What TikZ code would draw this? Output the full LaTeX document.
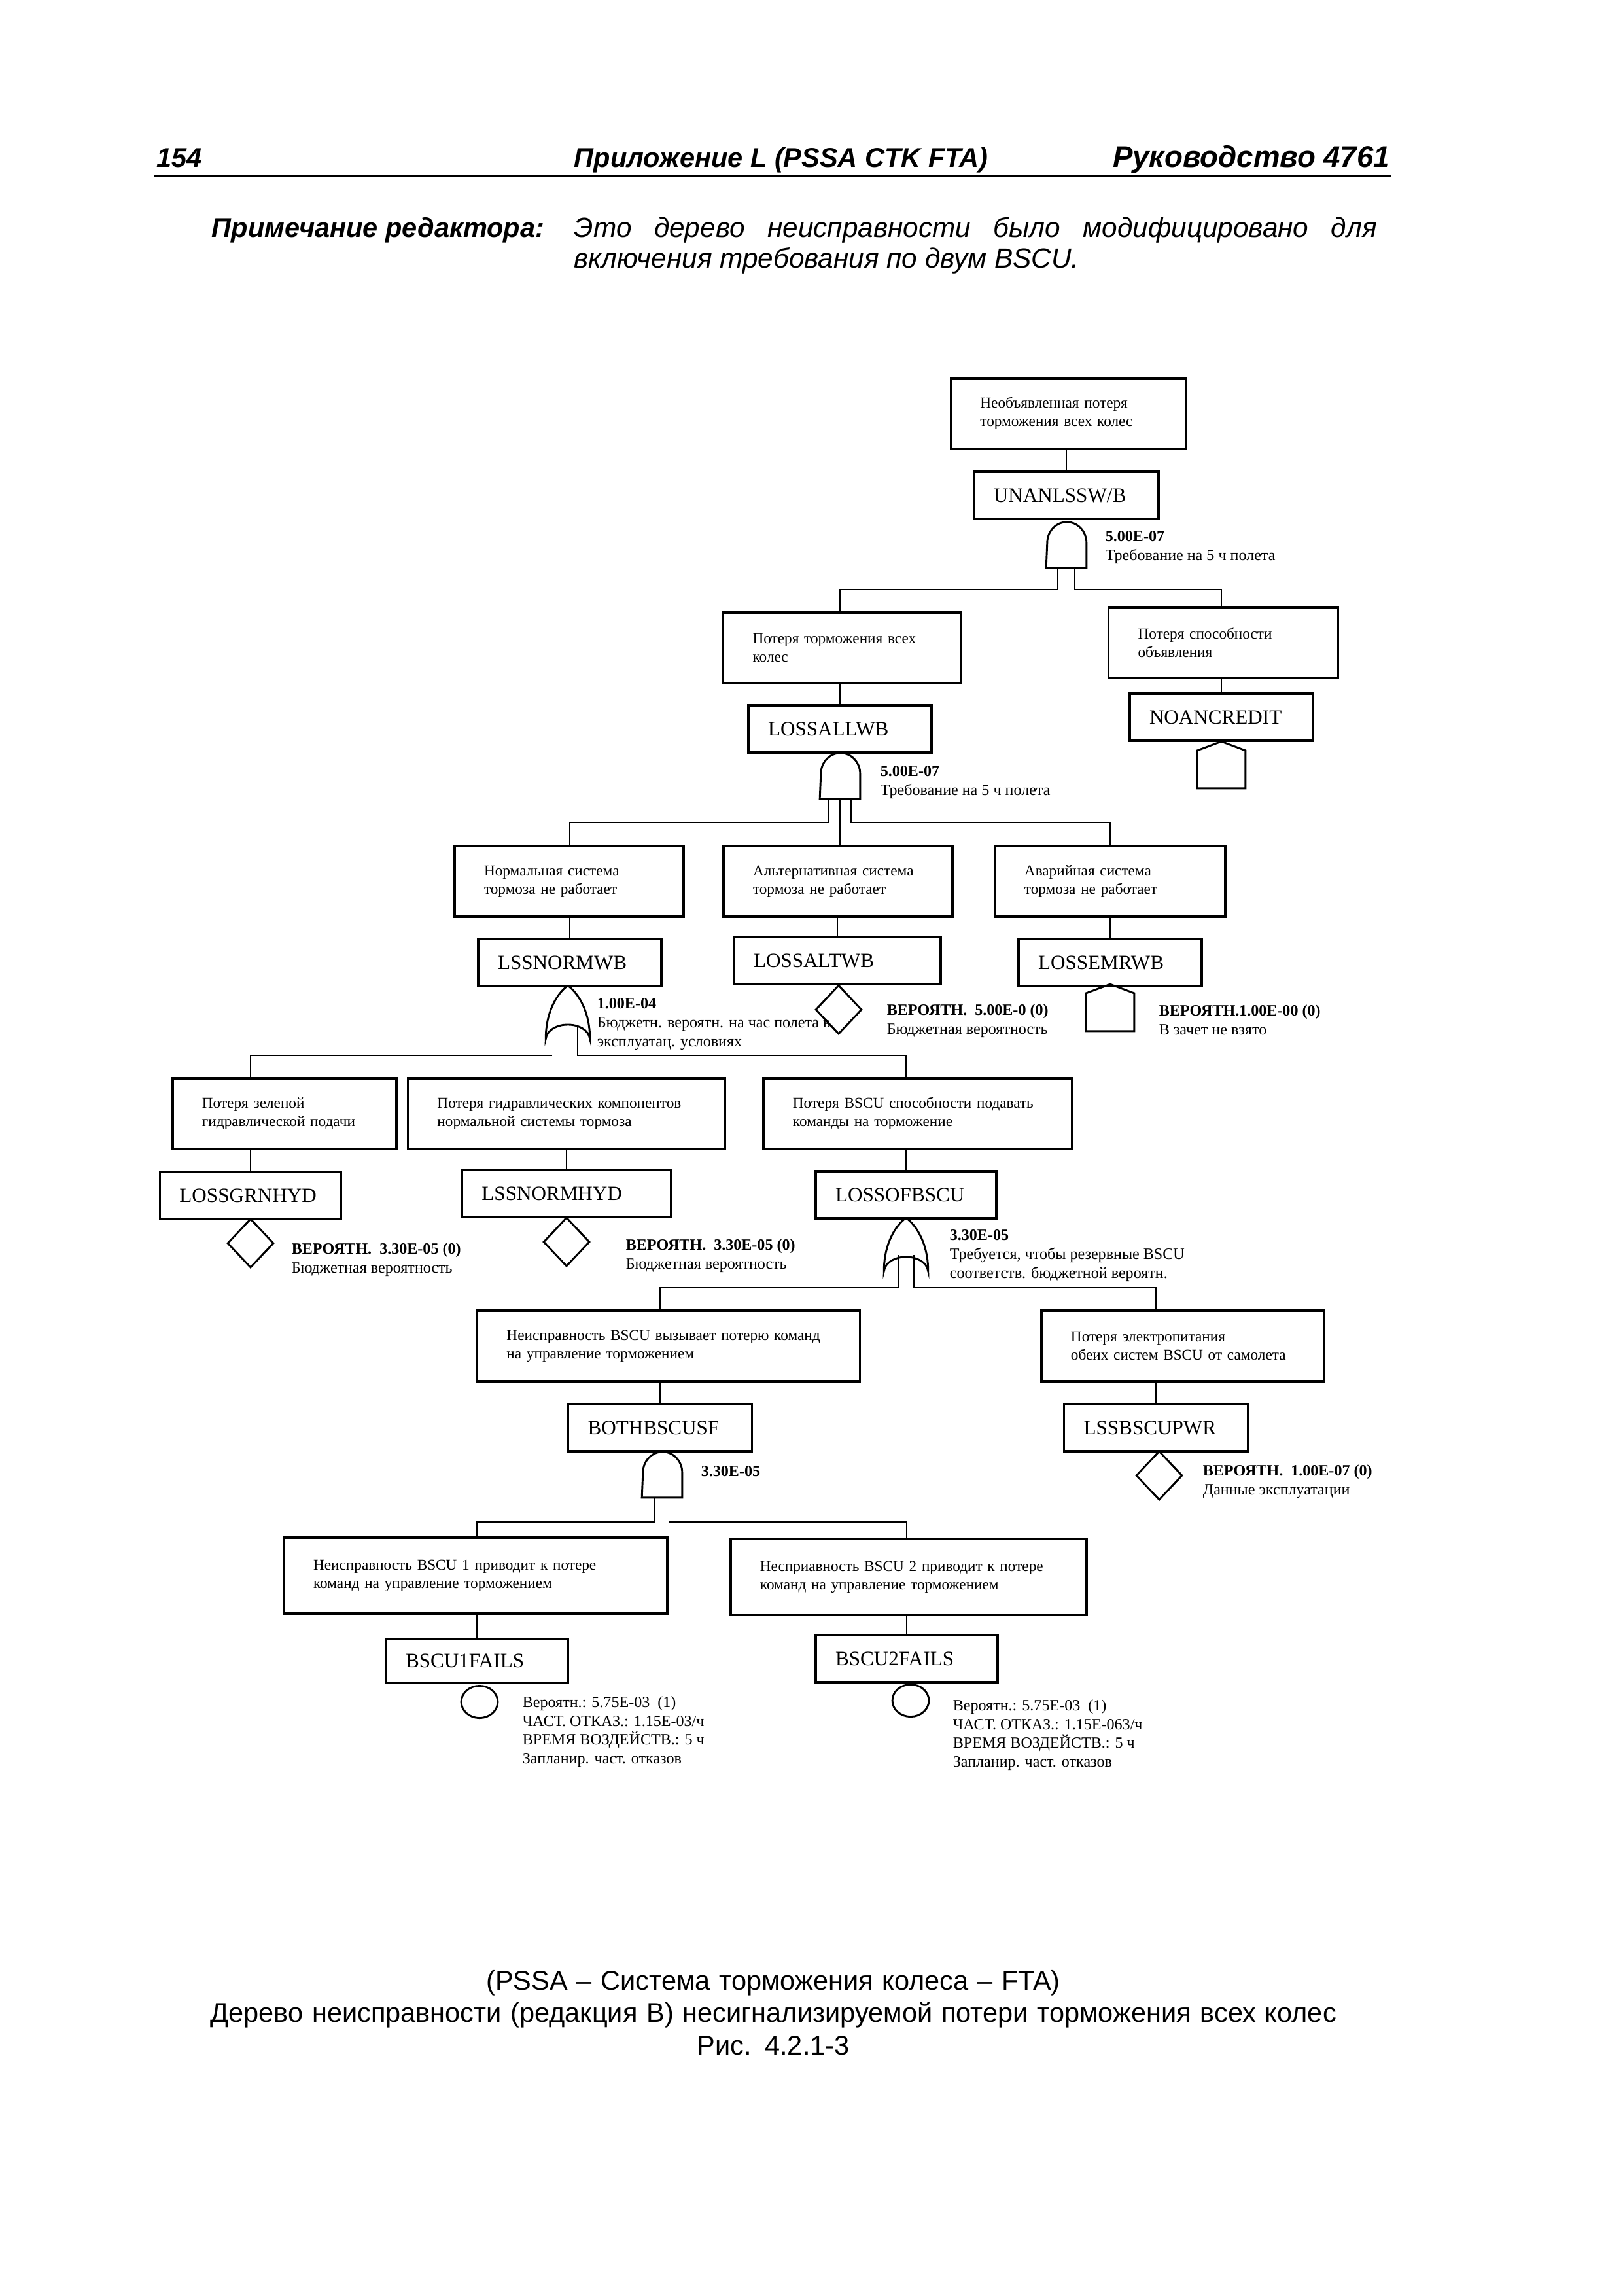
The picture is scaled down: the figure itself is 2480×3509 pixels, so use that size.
\documentclass[tikz,border=0pt]{standalone}
\usepackage{fontspec}
\setmainfont{Liberation Serif}
\newfontfamily\arialfont{Liberation Sans}
\usetikzlibrary{shapes.geometric,calc}

\newcommand{\hdrfont}{\arialfont\bfseries\itshape\fontsize{10}{12}\selectfont}
\newcommand{\capfont}{\arialfont\fontsize{10}{12}\selectfont}
\newcommand{\boxfont}{\fontsize{5.6}{6.8}\selectfont}
\newcommand{\idfont}{\fontsize{7.5}{8}\selectfont}
\newcommand{\notefont}{\fontsize{5.8}{6.9}\selectfont}

\tikzset{
  evbox/.style={draw, line width=0.9pt, inner xsep=10.8bp, inner ysep=0pt,
    minimum height=25.9bp, align=left, text width=#1, font=\boxfont},
  idbox/.style={draw, line width=0.9pt, inner xsep=7.2bp, inner ysep=0pt,
    minimum height=17.3bp, align=left, text width=#1, font=\idfont},
  gate/.style={inner sep=0pt, minimum width=14.4bp, minimum height=16.8bp},
  orgate/.style={inner sep=0pt, minimum width=15.8bp, minimum height=19.2bp},
  basic/.style={draw, line width=0.7pt, inner sep=0pt},
  diam/.style={basic, diamond, minimum width=17bp, minimum height=18bp},
  housenode/.style={inner sep=0pt, minimum width=17.3bp, minimum height=16.8bp},
  circ/.style={basic, ellipse, minimum width=13.4bp, minimum height=11.8bp},
  note/.style={anchor=north west, inner sep=0pt, align=left, font=\notefont},
  link/.style={line width=0.5pt},
  gateline/.style={line width=0.7pt}
}

% gate symbols drawn over empty nodes
\newcommand{\andshape}[1]{\draw[gateline] (#1.south west) -- (#1.south east)
  -- ([yshift=9.2bp]#1.south east) arc[start angle=0, end angle=180, x radius=7.2bp, y radius=7.6bp] -- cycle;}
\newcommand{\orshape}[1]{\draw[gateline] (#1.north)
  .. controls ([shift={(4bp,-3bp)}]#1.north) and ([shift={(0bp,10bp)}]#1.south east) .. (#1.south east)
  .. controls ([shift={(-1bp,7bp)}]#1.south east) and ([shift={(1bp,7bp)}]#1.south west) .. (#1.south west)
  .. controls ([shift={(0bp,10bp)}]#1.south west) and ([shift={(-4bp,-3bp)}]#1.north) .. (#1.north);}
\newcommand{\houseshape}[1]{\draw[gateline] (#1.south west) -- (#1.south east)
  -- ([yshift=-3.3bp]#1.north east) -- (#1.north) -- ([yshift=-3.3bp]#1.north west) -- cycle;}

\begin{document}
\begin{tikzpicture}[x=0.24bp, y=-0.24bp]
\path[use as bounding box, fill=white] (0,0) rectangle (2480,3509);

% page header
\node[anchor=base west, inner sep=0pt, font=\hdrfont] (pg) at (239,255) {154};
\node[anchor=base west, inner sep=0pt, font=\hdrfont] (app) at (877,255) {Приложение L (PSSA CTK FTA)};
\node[anchor=base east, inner sep=0pt, font=\hdrfont\fontsize{11}{12}\selectfont] (guide) at (2126,255) {Руководство 4761};
\draw[line width=1.1bp] (236,269) -- (2126,269);
\node[anchor=base west, inner sep=0pt, font=\hdrfont] (edlabel) at (323,362) {Примечание редактора:};
\node[anchor=base west, inner sep=0pt, text width=294.5bp, align=justify,
  font=\arialfont\itshape\fontsize{10.2}{11.5}\selectfont] (edtext) at (877,362)
  {Это дерево неисправности было модифицировано для\linebreak включения требования по двум BSCU.};

% level 1
\node[evbox=64.6bp] (top) at (1633,632) {Необъявленная потеря\\торможения всех колес};
\node[idbox=53.3bp] (unanl) at (1630,757) {UNANLSSW/B};
\node[gate] (gA) at (1630,832) {};
\node[note] (gAnote) at (1689,811) {\textbf{5.00E-07}\\Требование на 5 ч полета};

% level 2
\node[evbox=65.5bp] (lossall) at (1287,990) {Потеря торможения всех\\колес};
\node[evbox=62.6bp] (noan) at (1870,982) {Потеря способности\\объявления};
\node[idbox=52.8bp] (lossallid) at (1284,1114) {LOSSALLWB};
\node[idbox=52.8bp] (noanid) at (1867,1096) {NOANCREDIT};
\node[housenode] (hA) at (1867,1169) {};
\node[gate] (gB) at (1284,1185) {};
\node[note] (gBnote) at (1345,1170) {\textbf{5.00E-07}\\Требование на 5 ч полета};

% level 3
\node[evbox=62.4bp] (norm) at (870,1347) {Нормальная система\\тормоза не работает};
\node[evbox=62.4bp] (alt) at (1281,1347) {Альтернативная система\\тормоза не работает};
\node[evbox=62.9bp] (emr) at (1697,1347) {Аварийная система\\тормоза не работает};
\node[idbox=52.8bp] (normid) at (871,1471) {LSSNORMWB};
\node[idbox=61.4bp] (altid) at (1280,1468) {LOSSALTWB};
\node[idbox=52.8bp] (emrid) at (1697,1471) {LOSSEMRWB};
\node[orgate] (gC) at (868,1547) {};
\node[note] (gCnote) at (912,1525) {\textbf{1.00E-04}\\Бюджетн. вероятн. на час полета в\\эксплуатац. условиях};
\node[diam] (dAlt) at (1282,1543) {};
\node[note] (dAltnote) at (1355,1534) {\textbf{ВЕРОЯТН.\ \ 5.00E-0 (0)}\\Бюджетная вероятность};
\node[housenode] (hB) at (1697,1540) {};
\node[note] (hBnote) at (1771,1535) {\textbf{ВЕРОЯТН.1.00E-00 (0)}\\В зачет не взято};

% level 4
\node[evbox=60.5bp] (grn) at (435,1702) {Потеря зеленой\\гидравлической подачи};
\node[evbox=94.8bp] (hyd) at (866,1702) {Потеря гидравлических компонентов\\нормальной системы тормоза};
\node[evbox=91.7bp] (bscu) at (1403,1702) {Потеря BSCU способности подавать\\команды на торможение};
\node[idbox=52.1bp] (grnid) at (383,1827) {LOSSGRNHYD};
\node[idbox=62.2bp] (hydid) at (866,1824) {LSSNORMHYD};
\node[idbox=51.8bp] (bscuid) at (1385,1826) {LOSSOFBSCU};
\node[diam] (dA) at (383,1900) {};
\node[note] (dAnote) at (445,1899) {\textbf{ВЕРОЯТН.\ \ 3.30E-05 (0)}\\Бюджетная вероятность};
\node[diam] (dB) at (866,1898) {};
\node[note] (dBnote) at (956,1893) {\textbf{ВЕРОЯТН.\ \ 3.30E-05 (0)}\\Бюджетная вероятность};
\node[orgate] (gD) at (1385,1902) {};
\node[note] (gDnote) at (1451,1879) {\textbf{3.30E-05}\\Требуется, чтобы резервные BSCU\\соответств. бюджетной вероятн.};

% level 5
\node[evbox=118.8bp] (both) at (1022,2057) {Неисправность BSCU вызывает потерю команд\\на управление торможением};
\node[evbox=82.1bp] (pwr) at (1808,2057) {Потеря электропитания\\обеих систем BSCU от самолета};
\node[idbox=53bp] (bothid) at (1009,2182) {BOTHBSCUSF};
\node[idbox=53bp] (pwrid) at (1767,2182) {LSSBSCUPWR};
\node[gate] (gE) at (1012,2253) {};
\node[note] (gEnote) at (1071,2240) {\textbf{3.30E-05}};
\node[diam] (dC) at (1772,2255) {};
\node[note] (dCnote) at (1838,2238) {\textbf{ВЕРОЯТН.\ \ 1.00E-07 (0)}\\Данные эксплуатации};

% level 6
\node[evbox=119bp, minimum height=27.8bp] (b1) at (727,2408) {Неисправность BSCU 1 приводит к потере\\команд на управление торможением};
\node[evbox=109bp, minimum height=27.8bp] (b2) at (1389,2410) {Несприавность BSCU 2 приводит к потере\\команд на управление торможением};
\node[idbox=52.3bp, minimum height=16.1bp] (b1id) at (729,2538) {BSCU1FAILS};
\node[idbox=52.3bp] (b2id) at (1386,2535) {BSCU2FAILS};
\node[circ] (cA) at (733,2601) {};
\node[note] (cAnote) at (798,2592) {Вероятн.: 5.75E-03\ \ (1)\\ЧАСТ. ОТКАЗ.: 1.15E-03/ч\\ВРЕМЯ ВОЗДЕЙСТВ.: 5 ч\\Запланир. част. отказов};
\node[circ] (cB) at (1392,2599) {};
\node[note] (cBnote) at (1456,2597) {Вероятн.: 5.75E-03\ \ (1)\\ЧАСТ. ОТКАЗ.: 1.15E-063/ч\\ВРЕМЯ ВОЗДЕЙСТВ.: 5 ч\\Запланир. част. отказов};

% caption
\node[anchor=base, inner sep=0pt, text width=432bp, align=center, font=\capfont] (cap) at (1182,3041)
  {(PSSA – Система торможения колеса – FTA)\\Дерево неисправности (редакция B) несигнализируемой потери торможения всех колес\\Рис. 4.2.1-3};

% gate symbols
\andshape{gA}
\andshape{gB}
\andshape{gE}
\orshape{gC}
\orshape{gD}
\houseshape{hA}
\houseshape{hB}

% connectors
\draw[link] (top.south -| unanl) -- (unanl);
\draw[link] ([shift={(-13,0)}]gA.south) -- ++(0,33) -| (lossall.north -| lossallid);
\draw[link] ([shift={(13,0)}]gA.south) -- ++(0,33) -| (noan.north -| noanid);
\draw[link] (lossall.south -| lossallid) -- (lossallid);
\draw[link] (noan.south -| noanid) -- (noanid);
\draw[link] ([shift={(-17,0)}]gB.south) -- ++(0,36) -| (norm.north -| normid);
\draw[link] (gB.south) -- (gB.south |- alt.north);
\draw[link] ([shift={(17,0)}]gB.south) -- ++(0,36) -| (emr.north);
\draw[link] (norm.south -| normid) -- (normid);
\draw[link] (alt.south -| altid) -- (altid);
\draw[link] (emr) -- (emrid);
\draw[link] ([shift={(15,-20)}]gC.south) -- ++(0,45) -| (bscu.north -| bscuid);
\draw[link] ([shift={(-24,25)}]gC.south) -| (grn.north -| grnid);
\draw[link] (grn.south -| grnid) -- (grnid);
\draw[link] (hyd) -- (hydid);
\draw[link] (bscu.south -| bscuid) -- (bscuid);
\draw[link] ([shift={(-11,-25)}]gD.south) -- ++(0,50) -| (both.north -| bothid);
\draw[link] ([shift={(12,-25)}]gD.south) -- ++(0,50) -| (pwr.north -| pwrid);
\draw[link] (both.south -| bothid) -- (bothid);
\draw[link] (pwr.south -| pwrid) -- (pwrid);
\draw[link] ([shift={(-12,0)}]gE.south) -- ++(0,37) -| (b1.north -| b1id);
\draw[link] ([shift={(11,37)}]gE.south) -| (b2.north -| b2id);
\draw[link] (b1.south -| b1id) -- (b1id);
\draw[link] (b2.south -| b2id) -- (b2id);
\end{tikzpicture}
\end{document}
